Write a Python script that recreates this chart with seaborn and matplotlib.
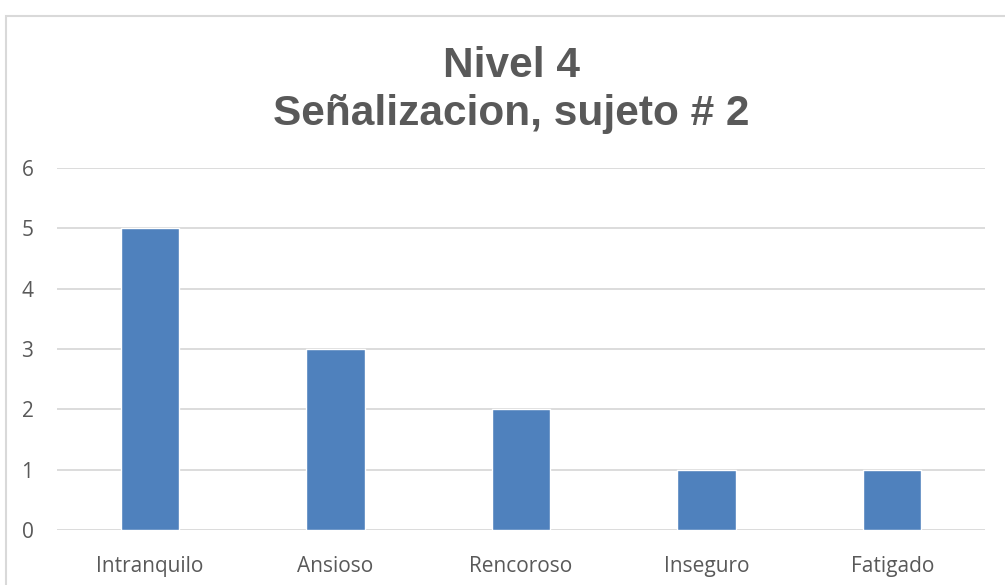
import matplotlib
matplotlib.use('Agg')
import pandas as pd
import seaborn as sns
import matplotlib.pyplot as plt
from matplotlib.patches import Rectangle

categorias = ['Intranquilo', 'Ansioso', 'Rencoroso', 'Inseguro', 'Fatigado']
valores = [5, 3, 2, 1, 1]
titulo = 'Nivel 4\nSeñalizacion, sujeto # 2'

df = pd.DataFrame({'categoria': categorias, 'valor': valores})

sns.set_style('white')
plt.rcParams['font.family'] = ['Open Sans', 'DejaVu Sans']

fig = plt.figure(figsize=(10.05, 5.85), dpi=100)
ax = fig.add_axes([57 / 1005, 1 - 530 / 585, 928 / 1005, 362 / 585])

sns.barplot(data=df, x='categoria', y='valor', color='#4f81bd',
            saturation=1, width=0.315, ax=ax)

ax.set_ylim(0, 6)
ax.set_yticks(range(0, 7))
ax.yaxis.grid(True, color='#d9d9d9', linewidth=1.3)
ax.set_axisbelow(True)
for s in ax.spines.values():
    s.set_visible(False)
ax.set_xlabel('')
ax.set_ylabel('')
ax.tick_params(axis='both', length=0, labelsize=15, colors='#595959')
ax.tick_params(axis='y', pad=17)
ax.tick_params(axis='x', pad=19)

fig.text(511 / 1005, 1 - 90 / 585, titulo, ha='center', va='center',
         fontsize=30.5, fontweight='bold', color='#595959',
         family=['Liberation Sans', 'DejaVu Sans'], linespacing=1.24)

# marco del grafico
fig.patches.append(Rectangle((6 / 1005, -0.1), 1.2, 1.1 - 16 / 585,
                             transform=fig.transFigure, fill=False,
                             edgecolor='#d9d9d9', linewidth=1.5))

fig.savefig('out.png', dpi=100)
